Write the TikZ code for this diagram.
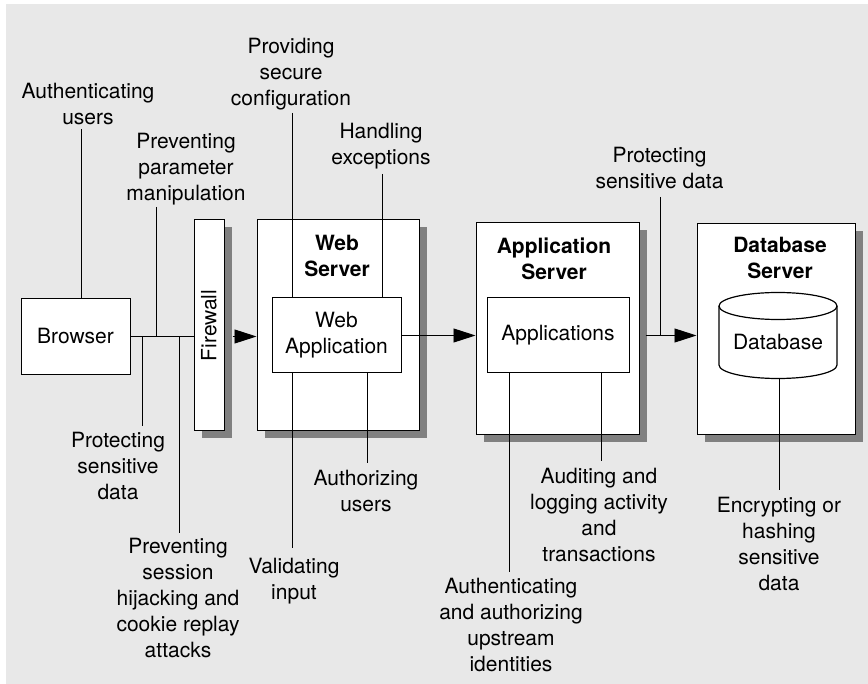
\documentclass[tikz,border=0pt]{standalone}
\usepackage{fontspec}
\setmainfont{TeX Gyre Heros}
\usetikzlibrary{arrows.meta,shadows,calc}
\definecolor{bggray}{HTML}{E8E8E8}
\definecolor{shgray}{HTML}{808080}
\begin{document}
\begin{tikzpicture}[x=1pt,y=-1pt, line width=1pt,
  every node/.style={font=\fontsize{21}{26}\selectfont},
  box/.style={draw, fill=white, line width=1pt, inner sep=0pt},
  shbox/.style={box, drop shadow={shadow xshift=8pt, shadow yshift=-7pt, opacity=1, fill=shgray, draw=none}},
  lbl/.style={align=center, inner sep=0pt, anchor=north},
  ttl/.style={align=center, inner sep=0pt, anchor=north, font=\fontsize{21}{26}\selectfont\bfseries},
  arr/.style={-{Triangle[length=22pt,width=14pt]}},
  conn/.style={line width=0.9pt}
]
\useasboundingbox (0,0) rectangle (868,684);
\fill[bggray] (6,4) rectangle (868,684);

% boxes
\node[box, minimum width=109pt, minimum height=76pt] (browser) at (75.5,336.5) {Browser};
\node[shbox, minimum width=30pt, minimum height=211pt] (firewall) at (209,325.5) {};
\node[rotate=90, inner sep=0pt] (fwtext) at (firewall.center) {Firewall};
\node[shbox, minimum width=162pt, minimum height=211pt] (websrv) at (338,325.5) {};
\node[ttl] (websrvt) at (337,235) {Web\\Server};
\node[box, minimum width=129pt, minimum height=75pt, align=center] (webapp) at (336.5,335.5) {Web\\Application};
\node[shbox, minimum width=163pt, minimum height=212pt] (appsrv) at (557.5,329) {};
\node[ttl] (appsrvt) at (554,237) {Application\\Server};
\node[box, minimum width=142pt, minimum height=75pt] (apps) at (558,335.5) {Applications};
\node[shbox, minimum width=158pt, minimum height=211pt] (dbsrv) at (776,329.5) {};
\node[ttl] (dbsrvt) at (780,237) {Database\\Server};
\node[minimum width=118pt, minimum height=85pt, inner sep=0pt] (db) at (778,335.5) {};
\draw[fill=white, line width=1.2pt] (719,306) -- (719,365)
  arc[start angle=180, end angle=360, x radius=59pt, y radius=13.5pt] -- (837,306)
  arc[start angle=0, end angle=180, x radius=59pt, y radius=13.5pt] -- cycle;
\draw[line width=1.2pt] (719,306) arc[start angle=180, end angle=360, x radius=59pt, y radius=13.5pt];
\node (dbt) at (778,342) {Database};

% labels
\node[lbl] (lAuthU) at (88,83) {Authenticating\\users};
\node[lbl] (lParam) at (186,133) {Preventing\\parameter\\manipulation};
\node[lbl] (lConfig) at (291,38) {Providing\\secure\\configuration};
\node[lbl] (lExc) at (381,123) {Handling\\exceptions};
\node[lbl] (lProtTop) at (659.5,147) {Protecting\\sensitive data};
\node[lbl] (lProtLeft) at (118,432) {Protecting\\sensitive\\data};
\node[lbl] (lSession) at (178,538) {Preventing\\session\\hijacking and\\cookie replay\\attacks};
\node[lbl] (lValid) at (294,558) {Validating\\input};
\node[lbl] (lAuthz) at (366,470) {Authorizing\\users};
\node[lbl] (lAudit) at (599,468) {Auditing and\\logging activity\\and\\transactions};
\node[lbl] (lUp) at (511,578) {Authenticating\\and authorizing\\upstream\\identities};
\node[lbl] (lEnc) at (779,497) {Encrypting or\\hashing\\sensitive\\data};

% connectors
\coordinate (cAuth) at (81,129);
\draw[conn] (cAuth) -- (cAuth |- browser.north);
\draw[conn] (browser.east) -- (browser.east -| firewall.west);
\coordinate (cParam) at (156,207);
\draw[conn] (cParam) -- (cParam |- browser.east);
\coordinate (cProtL) at (142,426);
\draw[conn] (cProtL |- browser.east) -- (cProtL);
\coordinate (cSess) at (179,533);
\draw[conn] (cSess |- browser.east) -- (cSess);
\coordinate (cFw) at ($(firewall.east |- browser.east)+(8,0)$);
\draw[conn, arr] (cFw) -- (cFw -| websrv.west);
\coordinate (cConf) at (292,113);
\draw[conn] (cConf) -- (cConf |- webapp.north);
\coordinate (cExc) at (382,174);
\draw[conn] (cExc) -- (cExc |- webapp.north);
\coordinate (cValid) at (292,548);
\draw[conn] (cValid |- webapp.south) -- (cValid);
\coordinate (cAuthz) at (367,463);
\draw[conn] (cAuthz |- webapp.south) -- (cAuthz);
\draw[conn, arr] (webapp.east) -- (webapp.east -| appsrv.west);
\coordinate (cUp) at (509,572);
\draw[conn] (cUp |- apps.south) -- (cUp);
\coordinate (cAudit) at (601,461);
\draw[conn] (cAudit |- apps.south) -- (cAudit);
\coordinate (cApp) at ($(appsrv.east |- apps.east)+(6,0)$);
\draw[conn, arr] (cApp) -- (cApp -| dbsrv.west);
\coordinate (cProtT) at (660,197);
\draw[conn] (cProtT) -- (cProtT |- apps.east);
\coordinate (cEnc) at (779,490);
\draw[conn] (cEnc |- db.south) -- (cEnc);
\end{tikzpicture}
\end{document}
